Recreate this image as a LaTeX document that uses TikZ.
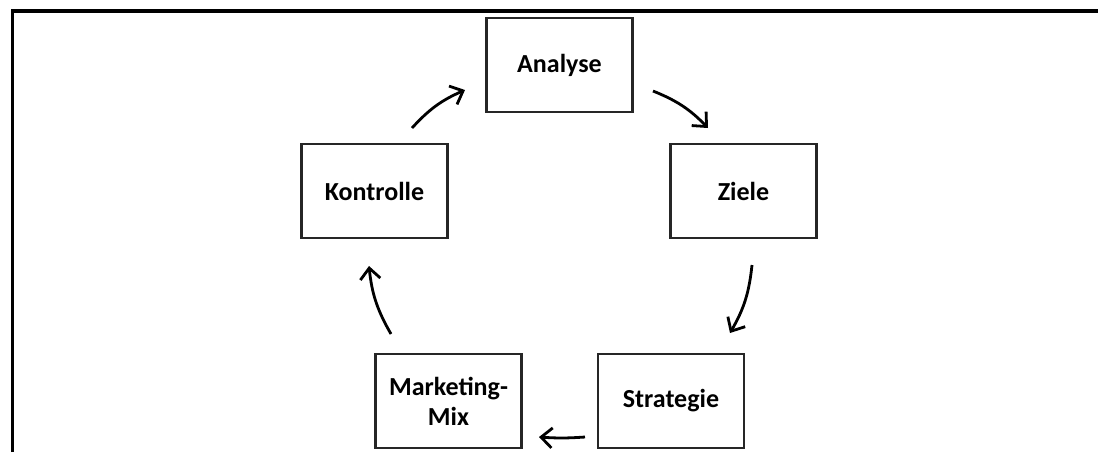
\documentclass[tikz,border=0pt]{standalone}
\usepackage{fontspec}
\setmainfont{Carlito}
\usetikzlibrary{arrows.meta}
\begin{document}
\begin{tikzpicture}[x=0.5pt,y=-0.5pt,
  stepbox/.style={draw=black!85,line width=1.4pt,minimum width=73pt,minimum height=47pt,
    inner sep=0pt,font=\fontsize{13}{15}\selectfont\bfseries,align=center,text=black},
  flow/.style={line width=1.4pt,-{Straight Barb[length=5.5pt,width=10pt,line width=1.4pt]},bend left=#1},
  flow/.default=12]
\useasboundingbox (0,0) rectangle (1098,452);
\draw[line width=1.6pt] (12.5,452) -- (12.5,11) -- (1098,11);
\node[stepbox] (a) at (559.5,65) {Analyse};
\node[stepbox] (z) at (743.5,191) {Ziele};
\node[stepbox] (s) at (671,401) {Strategie};
\node[stepbox] (m) at (448.5,401) {Marketing-\\Mix};
\node[stepbox] (k) at (374.5,191) {Kontrolle};
\coordinate (k1) at (412,128); \coordinate (a0) at (465,90);
\coordinate (a1) at (653,91);  \coordinate (z0) at (708,128);
\coordinate (z1) at (752,265); \coordinate (s0) at (730,333);
\coordinate (s1) at (585,437); \coordinate (m0) at (539,437);
\coordinate (m1) at (391,334); \coordinate (k0) at (369,266);
\draw[flow] (k1) to (a0);
\draw[flow] (a1) to (z0);
\draw[flow] (z1) to (s0);
\draw[flow=4] (s1) to (m0);
\draw[flow] (m1) to (k0);
\end{tikzpicture}
\end{document}
